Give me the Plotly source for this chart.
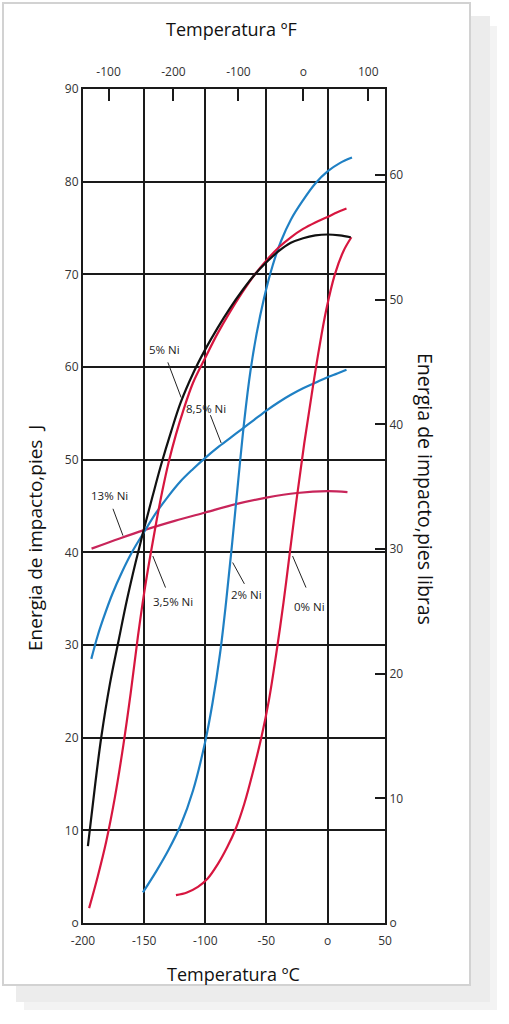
import plotly.graph_objects as go

# ---------------- data (temperature in degC, energy in J) ----------------
ni0_T = [-124, -115, -106, -98, -90, -82, -75, -68, -61, -54, -48, -42, -36, -31, -25, -19, -13, -7, -1, 6, 13, 19.5]
ni0_E = [3.0, 3.3, 3.9, 4.8, 6.3, 8.2, 10.2, 12.9, 16.3, 20.1, 24.0, 29.0, 34.6, 39.8, 46.0, 51.8, 57.0, 61.9, 66.2, 70.0, 72.5, 74.0]

ni2_T = [-151, -140, -130, -120, -110, -100, -94, -88, -83, -78, -73, -68, -63, -58, -52, -45, -38, -30, -20, -10, 0, 10, 20]
ni2_E = [3.3, 5.6, 7.9, 10.6, 14.3, 19.6, 23.8, 29.0, 34.6, 41.0, 47.8, 54.3, 59.6, 63.6, 67.4, 70.9, 73.6, 75.9, 78.0, 79.8, 81.1, 82.0, 82.6]

ni35_T = [-195, -188, -181, -174, -167, -161, -155, -150, -145, -140, -135, -130, -124, -118, -110, -100,
          -90, -80, -70, -60, -50, -40, -30, -20, -10, 0, 8, 15.5]
ni35_E = [1.6, 5.0, 8.8, 13.5, 19.2, 24.8, 31.0, 35.6, 39.6, 43.3, 46.7, 49.7, 52.7, 55.3, 58.3, 61.0,
          63.6, 65.9, 68.0, 69.9, 71.5, 72.9, 74.0, 74.9, 75.6, 76.2, 76.7, 77.1]

ni5_T = [-196, -190, -185, -178, -171, -164, -157, -150, -143, -136, -128, -120, -110, -100, -90, -80,
         -70, -60, -50, -40, -30, -20, -10, 0, 10, 19]
ni5_E = [8.3, 15.0, 20.1, 25.8, 30.4, 34.9, 38.9, 42.6, 46.1, 49.5, 53.0, 56.2, 59.3, 61.9, 64.2, 66.3,
         68.2, 69.9, 71.3, 72.5, 73.4, 73.9, 74.2, 74.3, 74.2, 74.0]

ni85_T = [-193.2, -188, -183, -176, -168, -160, -150, -140, -130, -120, -110, -100, -90, -80, -70, -60,
          -50, -40, -30, -20, -10, 0, 8, 15.5]
ni85_E = [28.5, 31.0, 33.0, 35.5, 37.9, 40.0, 42.2, 44.3, 46.1, 47.7, 49.0, 50.2, 51.3, 52.3, 53.3, 54.3,
          55.3, 56.2, 57.0, 57.7, 58.3, 58.9, 59.3, 59.7]

ni13_T = [-193, -170, -150, -125, -100, -75, -50, -25, 0, 16.3]
ni13_E = [40.4, 41.5, 42.4, 43.4, 44.3, 45.2, 45.9, 46.4, 46.6, 46.5]

# axis ticks
c_ticks = [-200, -150, -100, -50, 0, 50]
c_ticktext = ["-200", "-150", "-100", "-50", "o", "50"]
f_ticks = [-300, -200, -100, 0, 100]
f_ticktext = ["-100", "-200", "-100", "o", "100"]
j_ticks = [0, 10, 20, 30, 40, 50, 60, 70, 80, 90]
j_ticktext = ["o", "10", "20", "30", "40", "50", "60", "70", "80", "90"]
ftlb_ticks = [0, 10, 20, 30, 40, 50, 60]
ftlb_ticktext = ["o", "10", "20", "30", "40", "50", "60"]

# curve labels with leader lines (label centre, leader start, leader end)
labels = ["5% Ni", "8,5% Ni", "13% Ni", "3,5% Ni", "2% Ni", "0% Ni"]
label_T = [-133.5, -99.5, -178.0, -126.0, -66.5, -15.0]
label_E = [61.9, 55.5, 46.1, 34.7, 35.4, 34.2]
lead_T0 = [-130.6, -95.8, -175.5, -142.9, -77.6, -28.6]
lead_E0 = [60.5, 54.8, 44.7, 39.6, 38.9, 39.6]
lead_T1 = [-119.7, -87.0, -167.3, -132.5, -68.0, -17.6]
lead_E1 = [56.7, 51.8, 41.8, 36.2, 36.6, 36.2]

RED = "#d7163f"
BLUE = "#1f80c4"
PINK = "#c8255a"
BLACK = "#111111"

series = [
    (ni13_T, ni13_E, PINK),
    (ni85_T, ni85_E, BLUE),
    (ni0_T, ni0_E, RED),
    (ni2_T, ni2_E, BLUE),
    (ni35_T, ni35_E, RED),
    (ni5_T, ni5_E, BLACK),
]

fig = go.Figure()
for T, E, col in series:
    fig.add_trace(go.Scatter(x=T, y=E, mode="lines",
                             line=dict(color=col, width=2.2, shape="spline", smoothing=1.0),
                             showlegend=False, hoverinfo="skip"))

# layout geometry
W, H = 509, 1024
L, R, TOP, B = 83, 124, 89, 101
pw, ph = W - L - R, H - TOP - B


def px_x(p):
    return (p - L) / pw


def px_y(p):
    return (H - B - p) / ph


x_range_c = [-200, 47]
font_fam = "Open Sans, Liberation Sans, sans-serif"
tickfont = dict(family=font_fam, size=12, color="#333333")

fig.update_layout(
    width=W, height=H,
    margin=dict(l=L, r=R, t=TOP, b=B),
    paper_bgcolor="white",
    plot_bgcolor="rgba(0,0,0,0)",
    showlegend=False,
    xaxis=dict(range=x_range_c, tickvals=c_ticks[:-1] + [x_range_c[1]], ticktext=c_ticktext,
               showgrid=True, gridcolor="#1a1a1a", gridwidth=2, zeroline=False,
               showline=True, linecolor="#1a1a1a", linewidth=2, ticks="",
               tickfont=tickfont, ticklabelstandoff=6, fixedrange=True),
    xaxis2=dict(overlaying="x", side="top", anchor="y", range=[-339.3, 125.8],
                tickvals=f_ticks, ticktext=f_ticktext, ticks="inside", ticklen=12, tickwidth=2,
                tickcolor="#1a1a1a", showgrid=False, zeroline=False,
                showline=True, linecolor="#1a1a1a", linewidth=2,
                tickfont=tickfont, ticklabelstandoff=6),
    yaxis=dict(range=[0, 90], tickvals=j_ticks, ticktext=j_ticktext,
               showgrid=True, gridcolor="#1a1a1a", gridwidth=2, zeroline=False,
               showline=True, linecolor="#1a1a1a", linewidth=2, ticks="",
               tickfont=tickfont),
    yaxis2=dict(overlaying="y", side="right", anchor="x", range=[0, 66.9],
                tickvals=ftlb_ticks, ticktext=ftlb_ticktext, ticks="inside", ticklen=10, tickwidth=2,
                tickcolor="#1a1a1a", showgrid=False, zeroline=False,
                showline=True, linecolor="#1a1a1a", linewidth=2,
                tickfont=tickfont),
)

# empty trace so the secondary axes are laid out
fig.add_trace(go.Scatter(x=[], y=[], xaxis="x2", yaxis="y2", showlegend=False, hoverinfo="skip"))

shapes = [
    # soft shadow and card frame
    dict(type="rect", xref="paper", yref="paper", layer="below",
         x0=px_x(24), x1=px_x(497), y0=px_y(1010), y1=px_y(26),
         fillcolor="#f3f3f3", line=dict(width=0)),
    dict(type="rect", xref="paper", yref="paper", layer="below",
         x0=px_x(16), x1=px_x(490), y0=px_y(1002), y1=px_y(16),
         fillcolor="#ececec", line=dict(width=0)),
    dict(type="rect", xref="paper", yref="paper", layer="below",
         x0=px_x(3), x1=px_x(470), y0=px_y(985), y1=px_y(3),
         fillcolor="white", line=dict(color="#d2d2d2", width=2)),
]
for t0, e0, t1, e1 in zip(lead_T0, lead_E0, lead_T1, lead_E1):
    shapes.append(dict(type="line", xref="x", yref="y", x0=t0, y0=e0, x1=t1, y1=e1,
                       line=dict(color="#222222", width=1)))
fig.update_layout(shapes=shapes)

annotations = []
for txt, t, e in zip(labels, label_T, label_E):
    annotations.append(dict(x=t, y=e, xref="x", yref="y", text=txt, showarrow=False,
                            font=dict(family=font_fam, size=11.5, color="#222222")))

title_font = dict(family=font_fam, size=18, color="#111111")
centre = dict(xanchor="center", yanchor="middle", showarrow=False, xref="paper", yref="paper")
annotations += [
    dict(x=px_x(231), y=px_y(29), text="Temperatura ºF", font=title_font, **centre),
    dict(x=px_x(233), y=px_y(974), text="Temperatura ºC", font=title_font, **centre),
    dict(x=px_x(35), y=px_y(538), text="Energia de impacto,pies  J", textangle=-90,
         font=dict(family=font_fam, size=19, color="#111111"), **centre),
    dict(x=px_x(426), y=px_y(489), text="Energia de impacto,pies libras", textangle=90,
         font=dict(family=font_fam, size=19.5, color="#111111"), **centre),
]
fig.update_layout(annotations=annotations)

fig.write_html("out.html", config={"displayModeBar": False},
               post_script="document.body.style.margin='0';")
